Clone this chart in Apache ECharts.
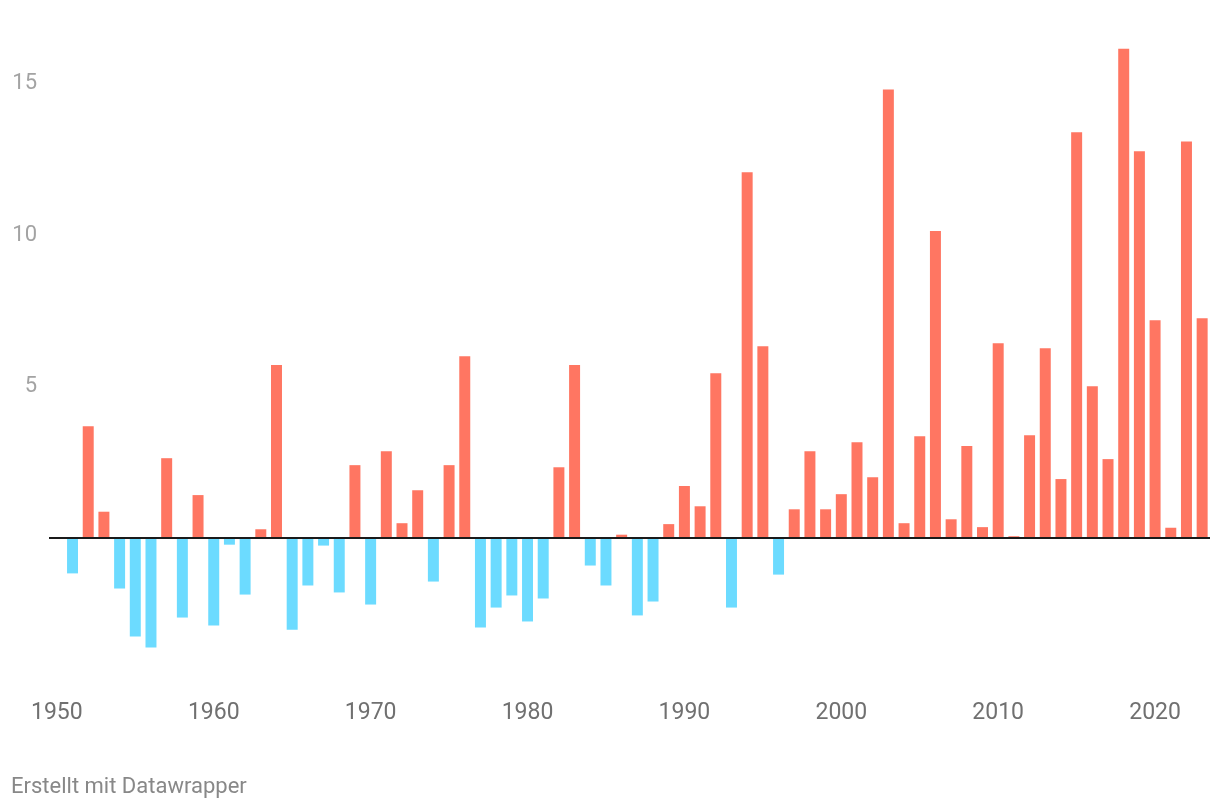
<!DOCTYPE html>
<html>
<head>
<meta charset="utf-8">
<script src="https://cdn.jsdelivr.net/npm/echarts@6/dist/echarts.min.js"></script>
<style>
  html, body { margin: 0; padding: 0; background: #ffffff; }
  #chart { width: 1220px; height: 808px; }
</style>
</head>
<body>
<div id="chart"></div>
<script>
// Years shown as bars
const years = [
  1951,1952,1953,1954,1955,1956,1957,1958,1959,1960,
  1961,1962,1963,1964,1965,1966,1967,1968,1969,1970,
  1971,1972,1973,1974,1975,1976,1977,1978,1979,1980,
  1981,1982,1983,1984,1985,1986,1987,1988,1989,1990,
  1991,1992,1993,1994,1995,1996,1997,1998,1999,2000,
  2001,2002,2003,2004,2005,2006,2007,2008,2009,2010,
  2011,2012,2013,2014,2015,2016,2017,2018,2019,2020,
  2021,2022,2023
];
// Values
const values = [
  -1.19, 3.68, 0.85, -1.69, -3.28, -3.64, 2.62, -2.65, 1.40, -2.91,
  -0.24, -1.89, 0.27, 5.70, -3.05, -1.59, -0.27, -1.82, 2.39, -2.22,
  2.85, 0.47, 1.56, -1.46, 2.39, 5.99, -2.98, -2.32, -1.92, -2.78,
  -2.02, 2.32, 5.70, -0.93, -1.59, 0.09, -2.58, -2.12, 0.44, 1.70,
  1.03, 5.43, -2.32, 12.08, 6.32, -1.23, 0.93, 2.85, 0.93, 1.43,
  3.15, 1.99, 14.81, 0.47, 3.35, 10.13, 0.60, 3.02, 0.34, 6.42,
  0.04, 3.38, 6.26, 1.93, 13.40, 5.00, 2.59, 16.16, 12.77, 7.18,
  0.32, 13.09, 7.25
];
// Axis starts one year before the first bar
const firstAxisYear = 1950;
const yTickLabels = [5, 10, 15];
const footerText = 'Erstellt mit Datawrapper';

const COLOR_POS = '#ff7662';
const COLOR_NEG = '#6cdbff';

const categories = [String(firstAxisYear)].concat(years.map(String));
const seriesData = [null].concat(values);

const chart = echarts.init(document.getElementById('chart'), null, { renderer: 'canvas' });
const FONT = 'Roboto, "Noto Sans", sans-serif';

chart.setOption({
  animation: false,
  backgroundColor: '#ffffff',
  grid: { left: 49, right: 10, top: 23.4, bottom: 119.4, containLabel: false },
  xAxis: {
    type: 'category',
    data: categories,
    boundaryGap: true,
    axisLine: { show: false, onZero: false },
    axisTick: { show: false },
    splitLine: { show: false },
    axisLabel: {
      interval: function (idx, val) { return Number(val) % 10 === 0; },
      color: '#707070',
      fontFamily: FONT,
      fontSize: 23,
      margin: 13
    }
  },
  yAxis: {
    type: 'value',
    min: -5,
    max: 17,
    interval: 5,
    axisLine: { show: false },
    axisTick: { show: false },
    splitLine: { show: false },
    axisLabel: {
      color: '#a3a3a3',
      fontFamily: FONT,
      fontSize: 22,
      margin: 12,
      padding: [6, 0, 0, 0],
      formatter: function (v) { return yTickLabels.indexOf(v) >= 0 ? String(v) : ''; }
    }
  },
  series: [{
    type: 'bar',
    data: seriesData,
    barWidth: '70%',
    itemStyle: {
      color: function (p) { return p.value >= 0 ? COLOR_POS : COLOR_NEG; }
    },
    markLine: {
      silent: true,
      symbol: ['none', 'none'],
      label: { show: false },
      lineStyle: { color: '#1a1a1a', width: 2, type: 'solid' },
      data: [{ yAxis: 0 }],
      z: 10
    }
  }],
  graphic: [{
    type: 'text',
    left: 11,
    top: 776,
    style: {
      text: footerText,
      fill: '#888888',
      font: '22px ' + FONT
    }
  }]
});
</script>
</body>
</html>
